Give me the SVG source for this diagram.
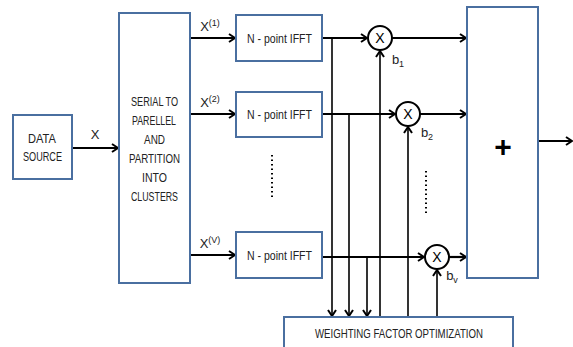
<svg xmlns="http://www.w3.org/2000/svg" width="573" height="347" viewBox="0 0 573 347">
<defs>
<marker id="ah" viewBox="0 0 10 10" refX="9" refY="5" markerWidth="10" markerHeight="10" markerUnits="userSpaceOnUse" orient="auto">
<path d="M3,1 L9,5 L3,9" fill="none" stroke="#000" stroke-width="2"/>
</marker>
</defs>
<style>
.box{fill:#fff;stroke:#4a6fa0;stroke-width:2}
.t{font-family:"Liberation Sans Narrow","Liberation Sans",Arial,sans-serif;font-size:13px;fill:#222;text-anchor:middle}
.s{font-size:9px}
.ln{fill:none;stroke:#000;stroke-width:2.2}
.thin{fill:none;stroke:#000;stroke-width:1.6}
.c{fill:#fff;stroke:#000;stroke-width:2}
</style>
<rect width="573" height="347" fill="#fff"/>
<g id="connectors">
<line class="ln" x1="72" y1="148" x2="118" y2="148" marker-end="url(#ah)"/>
<line class="ln" x1="190" y1="38" x2="235" y2="38" marker-end="url(#ah)"/>
<line class="ln" x1="190" y1="114" x2="235" y2="114" marker-end="url(#ah)"/>
<line class="ln" x1="190" y1="255" x2="235" y2="255" marker-end="url(#ah)"/>
<line class="ln" x1="322" y1="38" x2="367" y2="38" marker-end="url(#ah)"/>
<line class="ln" x1="322" y1="114" x2="395" y2="114" marker-end="url(#ah)"/>
<line class="ln" x1="322" y1="257" x2="424" y2="257" marker-end="url(#ah)"/>
<line class="ln" x1="392" y1="38" x2="466" y2="38" marker-end="url(#ah)"/>
<line class="ln" x1="420" y1="114" x2="466" y2="114" marker-end="url(#ah)"/>
<line class="ln" x1="449" y1="257" x2="466" y2="257" marker-end="url(#ah)"/>
<line class="ln" x1="538" y1="141" x2="572" y2="141" marker-end="url(#ah)"/>
<line class="thin" x1="332" y1="38" x2="332" y2="316" marker-end="url(#ah)"/>
<line class="thin" x1="349" y1="114" x2="349" y2="316" marker-end="url(#ah)"/>
<line class="thin" x1="367" y1="257" x2="367" y2="316" marker-end="url(#ah)"/>
<line class="thin" x1="380" y1="317" x2="380" y2="51" marker-end="url(#ah)"/>
<line class="thin" x1="408" y1="317" x2="408" y2="127" marker-end="url(#ah)"/>
<line class="thin" x1="437" y1="317" x2="437" y2="270" marker-end="url(#ah)"/>
</g>
<g id="data-source">
<rect class="box" x="13" y="115" width="59" height="64"/>
<text class="t" x="42" y="143" textLength="28" lengthAdjust="spacingAndGlyphs">DATA</text>
<text class="t" x="42.5" y="161" textLength="39" lengthAdjust="spacingAndGlyphs">SOURCE</text>
<text class="t" x="95" y="139">X</text>
</g>
<g id="serial-to-parallel">
<rect class="box" x="119" y="13" width="71" height="270"/>
<text class="t" x="154.5" y="106" textLength="47" lengthAdjust="spacingAndGlyphs">SERIAL TO</text>
<text class="t" x="154" y="125" textLength="44" lengthAdjust="spacingAndGlyphs">PARELLEL</text>
<text class="t" x="154.5" y="144" textLength="21" lengthAdjust="spacingAndGlyphs">AND</text>
<text class="t" x="154.5" y="163" textLength="51" lengthAdjust="spacingAndGlyphs">PARTITION</text>
<text class="t" x="154.5" y="182" textLength="25" lengthAdjust="spacingAndGlyphs">INTO</text>
<text class="t" x="154.5" y="201" textLength="47" lengthAdjust="spacingAndGlyphs">CLUSTERS</text>
</g>
<g id="labels-x">
<text class="t" x="210" y="31">X<tspan class="s" dy="-5">(1)</tspan></text>
<text class="t" x="210" y="107">X<tspan class="s" dy="-5">(2)</tspan></text>
<text class="t" x="210" y="248">X<tspan class="s" dy="-5">(V)</tspan></text>
</g>
<g id="ifft-1">
<rect class="box" x="236" y="15" width="86" height="46"/>
<text class="t" x="279.5" y="43" textLength="65" lengthAdjust="spacingAndGlyphs">N - point IFFT</text>
</g>
<g id="ifft-2">
<rect class="box" x="236" y="92" width="86" height="45"/>
<text class="t" x="279.5" y="119" textLength="65" lengthAdjust="spacingAndGlyphs">N - point IFFT</text>
</g>
<g id="ifft-v">
<rect class="box" x="236" y="232" width="86" height="46"/>
<text class="t" x="279.5" y="260" textLength="65" lengthAdjust="spacingAndGlyphs">N - point IFFT</text>
</g>
<g id="ellipsis-left">
<line x1="272" y1="155" x2="272" y2="199" stroke="#000" stroke-width="2" stroke-dasharray="1.6,2.9"/>
</g>
<g id="ellipsis-right">
<line x1="426" y1="171" x2="426" y2="216" stroke="#000" stroke-width="2" stroke-dasharray="1.6,2.9"/>
</g>
<g id="mult-1">
<circle class="c" cx="380" cy="38" r="12"/>
<text class="t" x="380" y="43" style="font-size:14px;fill:#000">X</text>
<text class="t" x="398" y="64">b<tspan class="s" dy="3">1</tspan></text>
</g>
<g id="mult-2">
<circle class="c" cx="408" cy="114" r="12"/>
<text class="t" x="408" y="119" style="font-size:14px;fill:#000">X</text>
<text class="t" x="427" y="137">b<tspan class="s" dy="3">2</tspan></text>
</g>
<g id="mult-v">
<circle class="c" cx="437" cy="257" r="12"/>
<text class="t" x="437" y="262" style="font-size:14px;fill:#000">X</text>
<text class="t" x="452" y="280">b<tspan class="s" dy="3">v</tspan></text>
</g>
<g id="summer">
<rect class="box" x="467" y="7" width="71" height="271"/>
<text class="t" x="503" y="157" style="font-size:30px;font-weight:bold;fill:#000">+</text>
</g>
<g id="weighting-factor-optimization">
<rect class="box" x="284" y="317" width="229" height="40"/>
<text class="t" x="399" y="338" textLength="168" lengthAdjust="spacingAndGlyphs">WEIGHTING FACTOR OPTIMIZATION</text>
</g>
</svg>
